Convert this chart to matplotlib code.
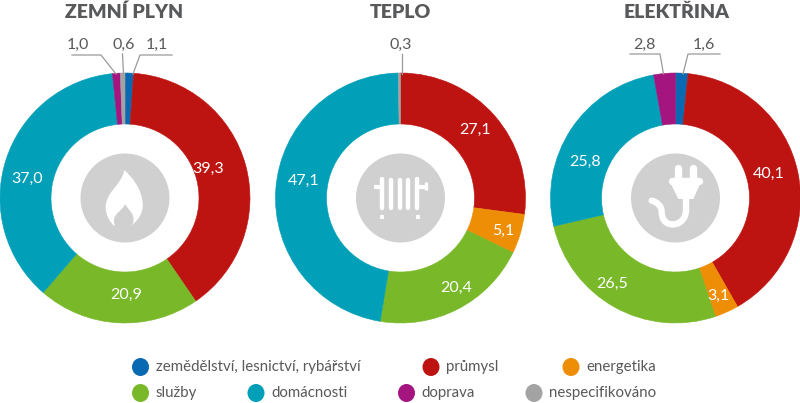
#!/usr/bin/env python3
import matplotlib
matplotlib.use("Agg")
import matplotlib.pyplot as plt
from matplotlib.patches import Circle, PathPatch, Ellipse
from matplotlib.path import Path

W, H = 800, 403

# poradi od vrcholu po smeru hodinovych rucicek
categories = ["zemědělství, lesnictví, rybářství", "průmysl", "energetika",
              "služby", "domácnosti", "doprava", "nespecifikováno"]
colors = ["#0a69b3", "#bd1412", "#ee8e06", "#78b829", "#019fb8", "#a5157f", "#a3a3a3"]

titles = ["ZEMNÍ PLYN", "TEPLO", "ELEKTŘINA"]
plyn = [1.1, 39.3, 0, 20.9, 37.0, 1.0, 0.6]
teplo = [0, 27.1, 5.1, 20.4, 47.1, 0, 0.3]
elektrina = [1.6, 40.1, 3.1, 26.5, 25.8, 2.8, 0]

TEXT = "#58595b"
LINE = "#9a9a9a"
ICON = "#d0d0d0"
FONT = "Lato"
plt.rcParams["font.family"] = [FONT, "DejaVu Sans"]

fig = plt.figure(figsize=(8, 4.03), dpi=100)
ax = fig.add_axes([0, 0, 1, 1])


def Y(y):
    return H - y


def fmt(v):
    return f"{v:.1f}".replace(".", ",")


centers = [(125, 198), (400.5, 198), (675.5, 198)]
title_x = [124.5, 400, 676.5]
R = 125
RW = 51

# pozice popisku v prstenci (hodnota -> pixely)
inside = [
    {39.3: (208, 169), 20.9: (126, 295), 37.0: (27, 179)},
    {27.1: (475, 130), 5.1: (503, 231), 20.4: (456, 288), 47.1: (304, 181)},
    {40.1: (769, 174), 3.1: (718, 296), 26.5: (612, 284), 25.8: (585, 162)},
]
# popisky nad prstencem: hodnota, pozice textu, lomena cara
outside = [
    [(1.0, (78, 45), [(72, 55), (101, 55), (116, 74)]),
     (0.6, (124, 45), [(122.5, 54), (123.5, 74)]),
     (1.1, (157, 45), [(172, 55), (140, 55), (133, 74)])],
    [(0.3, (401, 45), [(401.5, 54), (401.5, 74)])],
    [(2.8, (644, 45), [(630, 54), (660, 54), (663.5, 74)]),
     (1.6, (704, 45), [(720, 54), (688, 54), (683, 74)])],
]

for i, vals in enumerate([plyn, teplo, elektrina]):
    cx, cy = centers[i]
    shown = [v for v in vals if v > 0]
    shown_col = [col for v, col in zip(vals, colors) if v > 0]
    wedges, _ = ax.pie(shown, colors=shown_col, startangle=90, counterclock=False, radius=R,
                       center=(cx, Y(cy)), frame=True, wedgeprops=dict(width=RW))
    for w in wedges:
        w.set_edgecolor(w.get_facecolor())
        w.set_linewidth(0.4)
    ax.add_patch(Circle((cx, Y(cy)), 44.5, fc=ICON, ec="none", zorder=3))
    ax.text(title_x[i], Y(12), titles[i], ha="center", va="center", fontsize=14,
            fontweight="heavy", color=TEXT)
    for v, (tx, ty) in inside[i].items():
        ax.text(tx, Y(ty), fmt(v), ha="center", va="center", fontsize=11.5, color="white", zorder=5)
    for v, (tx, ty), pts in outside[i]:
        ax.text(tx, Y(ty), fmt(v), ha="center", va="center", fontsize=11.5, color=TEXT)
        ax.plot([p[0] for p in pts], [Y(p[1]) for p in pts], color=LINE, lw=0.9, zorder=5)


# ikony jsou nakreslene v souradnicich 3x zvetseneho vyrezu
def zoomed(ox, oy):
    def conv(x, y):
        return (ox + x / 3, Y(oy + y / 3))
    return conv


def curve_path(conv, start, curves):
    verts = [conv(*start)]
    codes = [Path.MOVETO]
    for s in curves:
        if len(s) == 6:
            verts += [conv(s[0], s[1]), conv(s[2], s[3]), conv(s[4], s[5])]
            codes += [Path.CURVE4] * 3
        else:
            verts.append(conv(*s))
            codes.append(Path.LINETO)
    return verts, codes


def bezier(conv, start, curves, color, z=4):
    verts, codes = curve_path(conv, start, curves)
    verts.append(verts[0])
    codes.append(Path.CLOSEPOLY)
    ax.add_patch(PathPatch(Path(verts, codes), fc=color, ec="none", zorder=z))


def stroke(conv, pts, lw, cap="round"):
    ax.plot([conv(*p)[0] for p in pts], [conv(*p)[1] for p in pts], color="white",
            lw=lw, solid_capstyle=cap, solid_joinstyle="round", zorder=4)


# plamen
c = zoomed(70, 130)
bezier(c, (163, 120), [(155, 165, 107, 185, 107, 232), (107, 255, 118, 275, 133, 288),
                       (183, 288), (205, 270, 220, 250, 218, 220), (215, 175, 185, 140, 163, 120)], "white")
bezier(c, (165, 222), [(160, 240, 132, 250, 132, 270), (132, 280, 133, 285, 137, 295),
                       (178, 295), (190, 285, 192, 272, 190, 262), (187, 245, 172, 235, 165, 222)], ICON, z=4.5)

# radiator
c = zoomed(340, 130)
for bx, top in zip([127, 153, 179, 205, 232], [146, 150, 150, 150, 146]):
    stroke(c, [(bx, top), (bx, 234)], 3.2)
stroke(c, [(103, 171), (125, 171)], 3.0, "butt")
stroke(c, [(235, 171), (262, 171)], 3.0, "butt")
stroke(c, [(258, 155), (258, 180)], 2.4, "butt")
stroke(c, [(127, 256), (127, 266)], 2.7, "butt")
stroke(c, [(233, 256), (233, 266)], 2.7, "butt")

# zastrcka
c = zoomed(610, 130)
stroke(c, [(203, 113), (203, 145)], 5.3)
stroke(c, [(250, 113), (250, 145)], 5.3)
stroke(c, [(186, 152), (267, 152)], 5.3)
bezier(c, (181, 158), [(272, 158), (250, 207), (205, 207)], "white")
verts, codes = curve_path(c, (228, 200), [(228, 240), (228, 270, 205, 285, 185, 283),
                                          (165, 282, 155, 265, 155, 245),
                                          (155, 228, 140, 215, 125, 212)])
ax.add_patch(PathPatch(Path(verts, codes), fc="none", ec="white", lw=4.6, capstyle="round", zorder=4))

# legenda: znacka, text
legend_pos = [(140.5, 367), (431, 367), (571, 367), (140.5, 393), (256, 393), (406.5, 393), (534, 393)]
for cat, col, (lx, ly) in zip(categories, colors, legend_pos):
    ax.add_patch(Ellipse((lx, Y(ly)), 17, 18, fc=col, ec="none"))
    ax.text(lx + 15, Y(ly), cat, ha="left", va="center", fontsize=10.8, color=TEXT)

ax.set_xlim(0, W)
ax.set_ylim(0, H)
ax.set_aspect("auto")
ax.axis("off")

fig.savefig("out.png", dpi=100)
